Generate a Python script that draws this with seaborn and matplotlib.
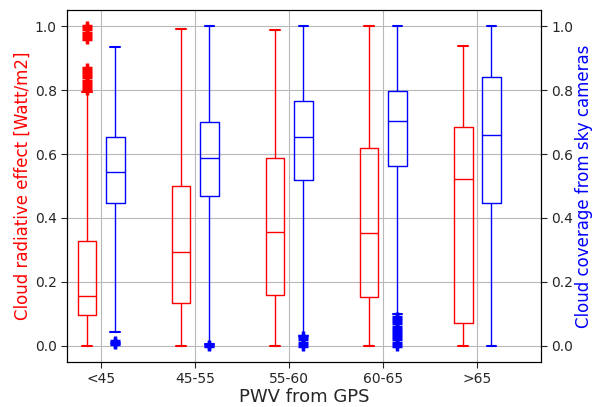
import matplotlib
matplotlib.use("Agg")
import matplotlib.pyplot as plt
import seaborn as sns

# PWV bins
categories = ["<45", "45-55", "55-60", "60-65", ">65"]

# Cloud radiative effect (left axis, red) - box summary
red_low = [0.0, 0.0, 0.0, 0.0, 0.0]
red_q1 = [0.098, 0.134, 0.159, 0.153, 0.073]
red_med = [0.157, 0.294, 0.356, 0.353, 0.523]
red_q3 = [0.329, 0.500, 0.588, 0.619, 0.685]
red_high = [0.794, 0.990, 0.988, 1.0, 0.938]
red_fliers = [
    [0.80, 0.81, 0.82, 0.83, 0.84, 0.85, 0.86, 0.87, 0.96, 0.97, 0.98, 0.99, 1.0],
    [], [], [], [],
]

# Cloud coverage from sky cameras (right axis, blue)
blue_low = [0.044, 0.006, 0.032, 0.10, 0.0]
blue_q1 = [0.446, 0.469, 0.519, 0.563, 0.446]
blue_med = [0.545, 0.588, 0.653, 0.703, 0.659]
blue_q3 = [0.654, 0.700, 0.766, 0.797, 0.840]
blue_high = [0.934, 1.0, 1.0, 1.0, 1.0]
blue_fliers = [
    [0.006, 0.01, 0.015],
    [0.0, 0.004],
    [0.0, 0.01, 0.02, 0.03],
    [0.0, 0.01, 0.02, 0.03, 0.04, 0.05, 0.06, 0.07, 0.08, 0.09],
    [],
]


def make_stats(low, q1, med, q3, high, fliers):
    stats = []
    for i in range(len(med)):
        stats.append(
            {
                "whislo": low[i],
                "q1": q1[i],
                "med": med[i],
                "q3": q3[i],
                "whishi": high[i],
                "fliers": fliers[i],
            }
        )
    return stats


sns.set_style("ticks", {"axes.grid": True, "grid.color": "#b8b8b8", "axes.edgecolor": "black"})
plt.rcParams["font.family"] = ["DejaVu Sans"]

fig = plt.figure(figsize=(6, 4.07), dpi=100)
ax1 = fig.add_axes([0.112, 0.111, 0.79, 0.864])
ax2 = ax1.twinx()

pos = list(range(1, len(categories) + 1))


def draw(ax, stats, positions, color):
    ax.bxp(
        stats,
        positions=positions,
        widths=0.2,
        manage_ticks=False,
        boxprops=dict(color=color, linewidth=1),
        whiskerprops=dict(color=color, linewidth=1),
        capprops=dict(color=color, linewidth=1.5),
        medianprops=dict(color=color, linewidth=1),
        flierprops=dict(marker="+", markeredgecolor=color, markersize=7, markeredgewidth=2.5),
    )


draw(ax1, make_stats(red_low, red_q1, red_med, red_q3, red_high, red_fliers),
     [p - 0.15 for p in pos], "red")
draw(ax2, make_stats(blue_low, blue_q1, blue_med, blue_q3, blue_high, blue_fliers),
     [p + 0.15 for p in pos], "blue")

for ax in (ax1, ax2):
    ax.set_ylim(-0.05, 1.05)
    ax.set_xlim(0.64, 5.68)
    ax.set_yticks([0.0, 0.2, 0.4, 0.6, 0.8, 1.0])
    ax.tick_params(axis="both", labelsize=10, direction="out", length=4)
ax2.grid(False)

ax1.set_xticks(pos)
ax1.set_xticklabels(categories)
ax1.set_xlabel("PWV from GPS", fontsize=13, labelpad=1)
ax1.set_ylabel("Cloud radiative effect [Watt/m2]", fontsize=12, color="red", labelpad=2)
ax2.set_ylabel("Cloud coverage from sky cameras", fontsize=12, color="blue", labelpad=1)

fig.savefig("out.png", dpi=100)
